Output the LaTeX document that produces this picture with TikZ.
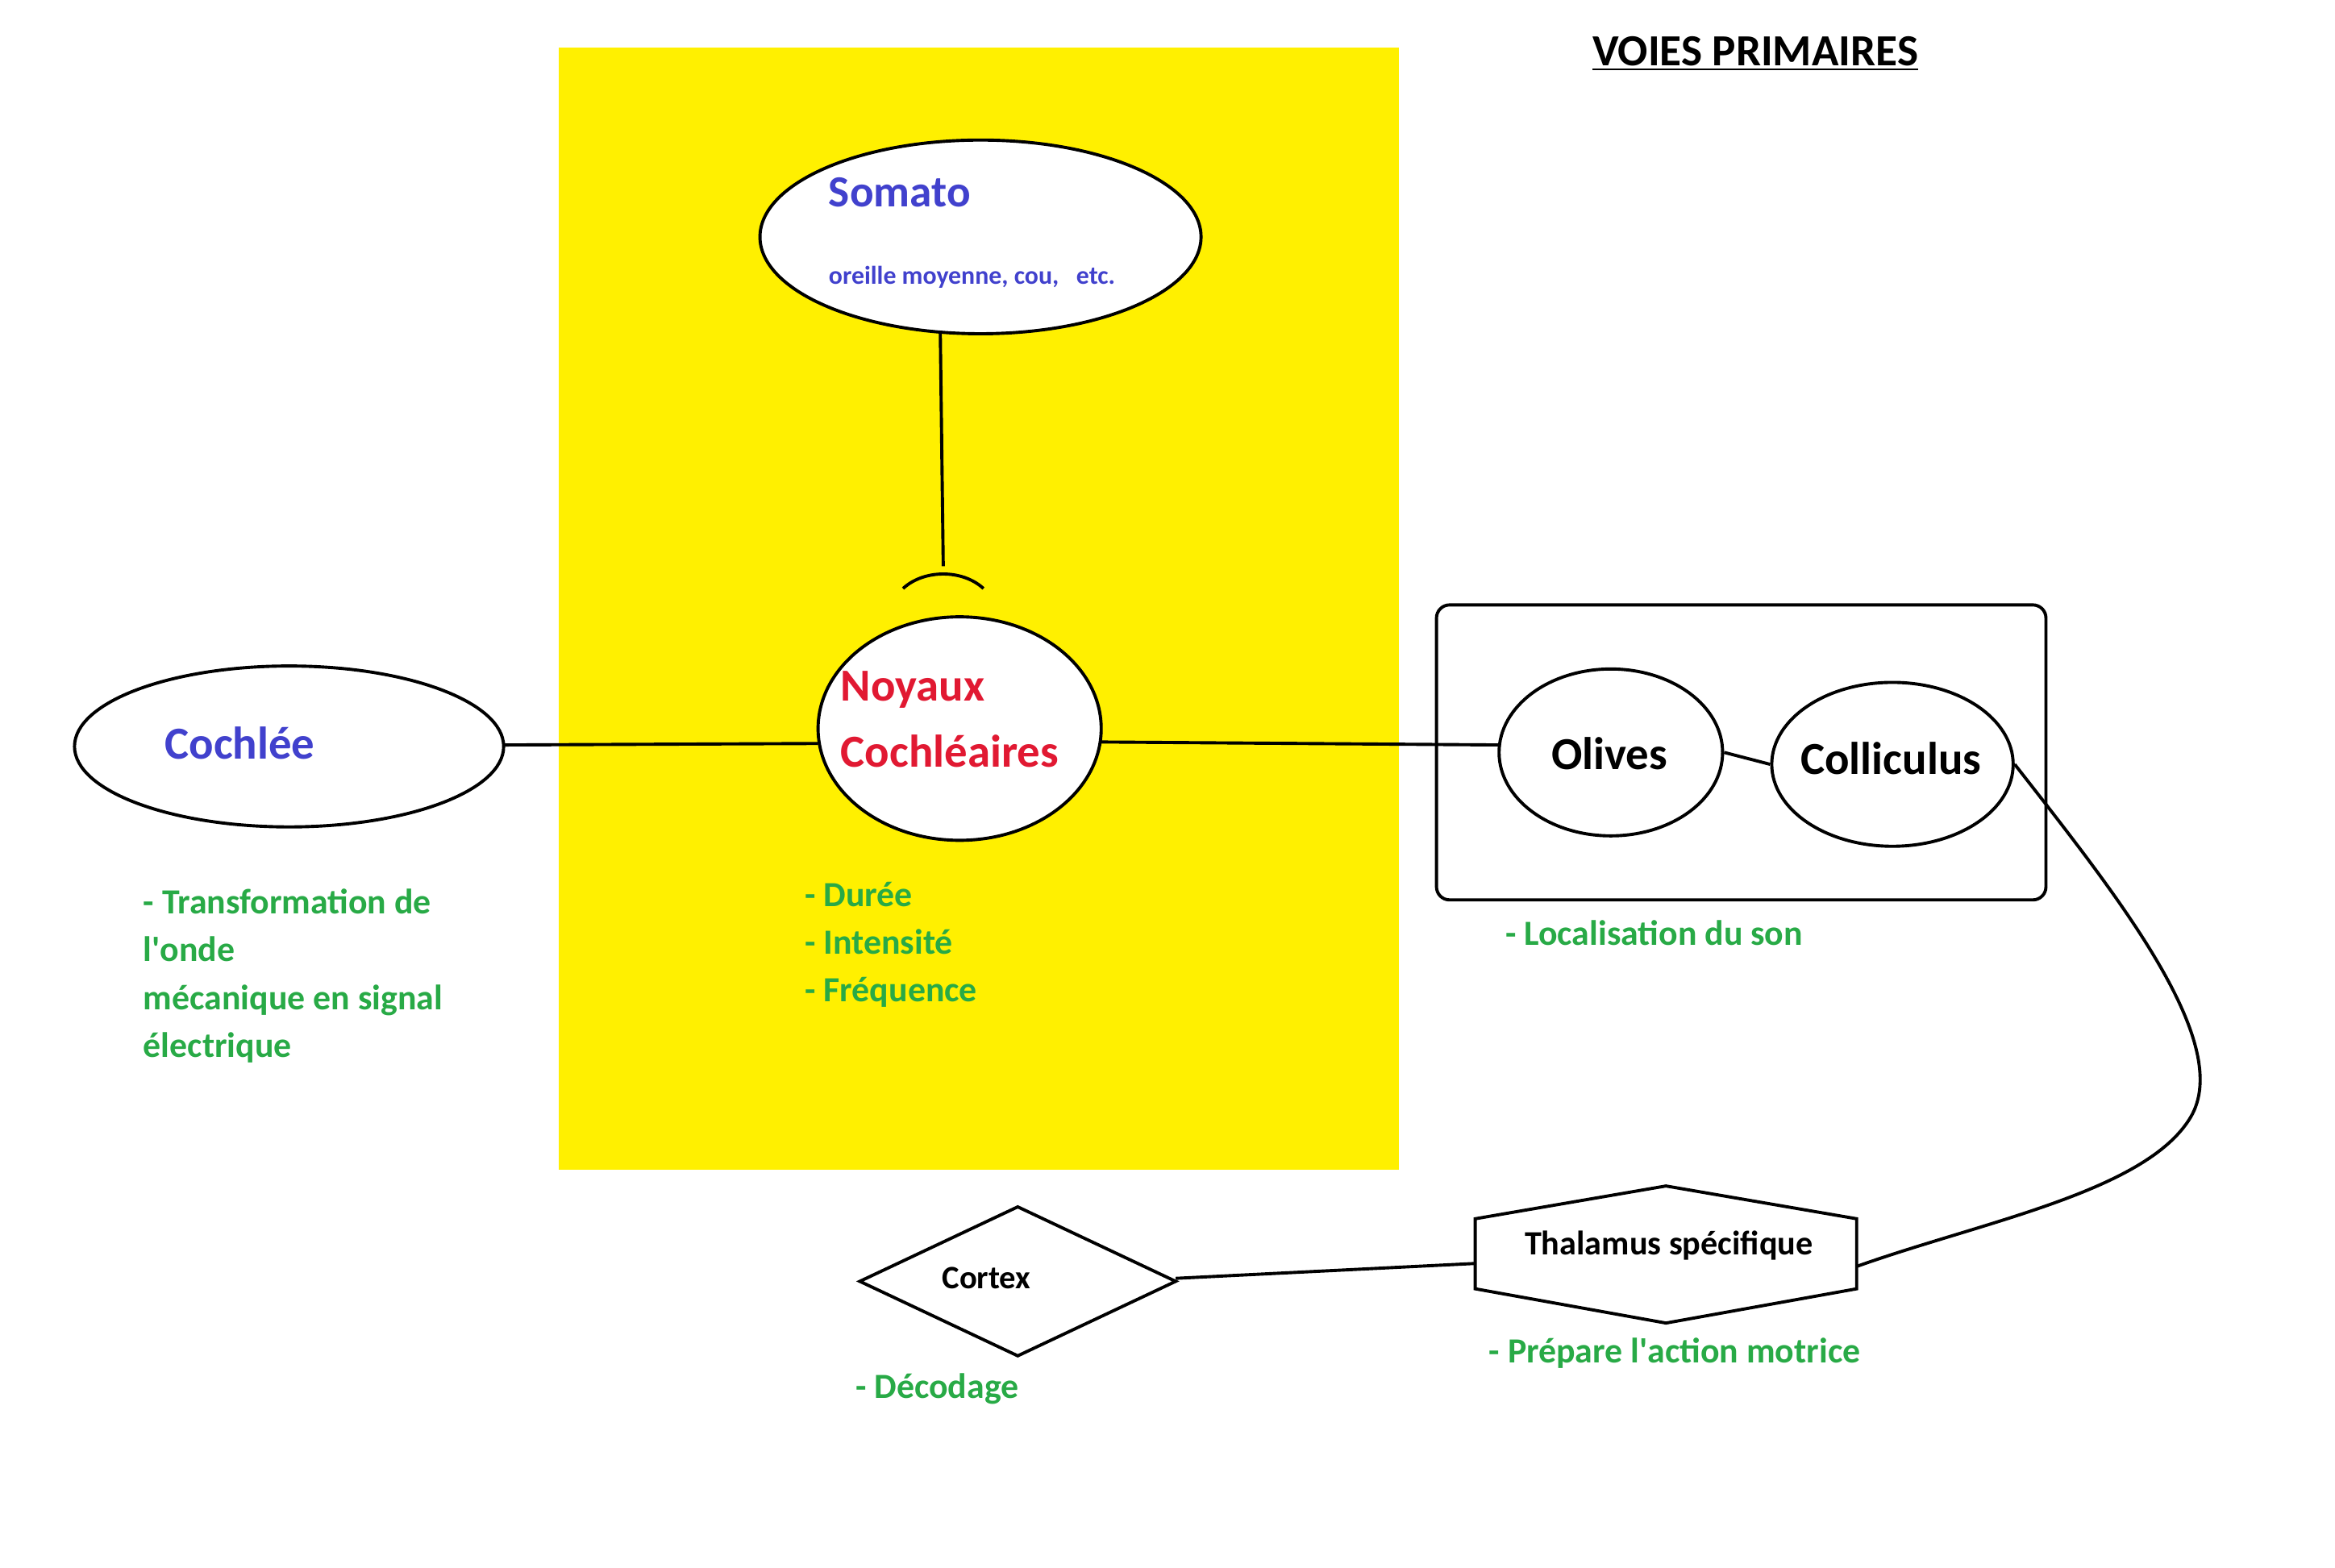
\documentclass[tikz,border=0pt]{standalone}
\usepackage{fontspec}
\setmainfont{Carlito}
\usetikzlibrary{shapes.geometric}
\definecolor{yel}{RGB}{255,240,0}
\definecolor{grn}{RGB}{40,170,70}
\definecolor{blu}{RGB}{65,65,205}
\definecolor{rd}{RGB}{225,25,50}
\begin{document}
\begin{tikzpicture}[x=0.02cm,y=-0.02cm,
  every node/.style={font=\bfseries},
  ln/.style={line width=1.2pt},
  el/.style={ellipse,draw,line width=1.2pt,inner sep=0pt},
  gt/.style={text=grn,font=\bfseries\fontsize{13.5}{18.3}\selectfont,anchor=west,align=left}]
\useasboundingbox (0,0) rectangle (1567,1052);
\fill[yel] (375,32) rectangle (939,785);
\node[font=\bfseries\fontsize{17}{20}\selectfont] (title) at (1178,36) {\underline{VOIES PRIMAIRES}};
\node[el,minimum width=296*0.02cm,minimum height=130*0.02cm,fill=white] (som) at (658,159) {};
\node[text=blu,font=\bfseries\fontsize{17}{20}\selectfont,anchor=west] at (550,129) {Somato};
\node[text=blu,font=\bfseries\fontsize{9.8}{11}\selectfont,anchor=west] at (550,186) {oreille moyenne, cou,\ \ \ etc.};
\node[el,minimum width=190*0.02cm,minimum height=150*0.02cm,fill=white] (noy) at (644,489) {};
\node[text=rd,font=\bfseries\fontsize{17.5}{20}\selectfont,anchor=west] at (558,463) {Noyaux};
\node[text=rd,font=\bfseries\fontsize{17.5}{20}\selectfont,anchor=west] at (558,504) {Cochléaires};
\node[el,minimum width=288*0.02cm,minimum height=108*0.02cm,fill=white] (coc) at (194,501) {};
\node[text=blu,font=\bfseries\fontsize{17.5}{20}\selectfont] at (161,499) {Cochlée};
\coordinate (cap) at (633,380);
\draw[ln] (631,222) -- (cap);
\draw[ln] (606,395) .. controls (620,382) and (646,382) .. (660,395);
\coordinate (cocE) at (338,500);
\coordinate (noyW) at (549,499);
\coordinate (noyE) at (739,498);
\draw[ln] (cocE) -- (noyW);
\draw[ln,rounded corners=5pt] (964,406) rectangle (1373,604);
\node[el,minimum width=150*0.02cm,minimum height=112*0.02cm] (oli) at (1081,505) {};
\node[font=\bfseries\fontsize{17.5}{20}\selectfont] at (1080,506) {Olives};
\node[el,minimum width=162*0.02cm,minimum height=110*0.02cm] (col) at (1270,513) {};
\node[font=\bfseries\fontsize{17.5}{20}\selectfont] at (1269,509) {Colliculus};
\coordinate (oliW) at (1007,500);
\draw[ln] (noyE) -- (oliW);
\draw[ln] (oli.east) -- (col.west);
\draw[ln] (990,818) -- (1118,796) -- (1246,818) -- (1246,865) -- (1118,888) -- (990,865) -- cycle;
\node[font=\bfseries\fontsize{13}{15}\selectfont] (thal) at (1120,836) {Thalamus spécifique};
\draw[ln] (577,860) -- (683,810) -- (789,860) -- (683,910) -- cycle;
\node[font=\bfseries\fontsize{12.5}{15}\selectfont] (cor) at (662,858) {Cortex};
\coordinate (corE) at (789,858);
\coordinate (thW) at (990,848);
\draw[ln] (corE) -- (thW);
\draw[ln] (col.east) .. controls (1420,600) and (1500,700) .. (1470,750) .. controls (1440,800) and (1330,820) .. (1246,850);
\node[gt] at (90,655) {- Transformation de\\l\textquotesingle onde\\mécanique en signal\\électrique};
\node[gt] at (534,634) {- Durée\\- Intensité\\- Fréquence};
\node[gt] at (1004,626) {- Localisation du son};
\node[gt] at (568,932) {- Décodage};
\node[gt] at (993,908) {- Prépare l\textquotesingle action motrice};
\end{tikzpicture}
\end{document}
